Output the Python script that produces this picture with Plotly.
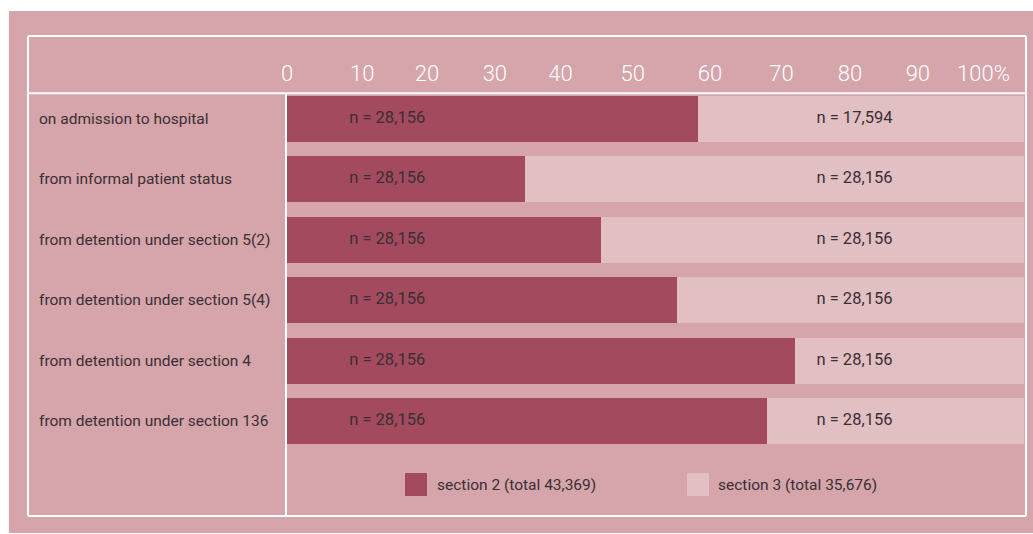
import plotly.graph_objects as go

# Routes into detention and the split between section 2 and section 3
categories = [
    "on admission to hospital",
    "from informal patient status",
    "from detention under section 5(2)",
    "from detention under section 5(4)",
    "from detention under section 4",
    "from detention under section 136",
]
section2_pct = [55.7, 32.3, 42.6, 52.9, 68.9, 65.1]
section3_pct = [round(100 - v, 1) for v in section2_pct]
section2_n = ["28,156", "28,156", "28,156", "28,156", "28,156", "28,156"]
section3_n = ["17,594", "28,156", "28,156", "28,156", "28,156", "28,156"]

tick_labels = ["0", "10", "20", "30", "40", "50", "60", "70", "80", "90", "100%"]
# header labels sit on a slightly tighter grid than the bar track
tick_pos = [0, 10.2, 19.0, 28.2, 37.1, 46.9, 57.4, 67.1, 76.4, 85.6, 94.5]

legend_labels = ["section 2 (total 43,369)", "section 3 (total 35,676)"]

DARK = "#a34a5f"
LIGHT = "#e2bfc3"
PINK = "#d5a5ab"
TEXT = "#3a2f34"
FONT = "Roboto, sans-serif"

W, H = 1033, 534
L, R, T, B = 287, 9, 94, 18
PW, PH = W - L - R, H - T - B


def px(x):
    return (x - L) / PW


def py(y):
    return (H - B - y) / PH


fig = go.Figure()
fig.add_trace(go.Bar(
    y=categories, x=section2_pct, orientation="h", marker=dict(color=DARK, line=dict(width=0)),
    width=0.76, hoverinfo="skip", showlegend=False,
))
fig.add_trace(go.Bar(
    y=categories, x=section3_pct, orientation="h", marker=dict(color=LIGHT, line=dict(width=0)),
    width=0.76, hoverinfo="skip", showlegend=False,
))

# count labels inside each segment
label_font = dict(family=FONT, size=16.5, color=TEXT, weight=400)
fig.add_trace(go.Scatter(
    y=categories, x=[13.6] * len(categories), mode="text",
    text=["n = " + s for s in section2_n], textfont=label_font,
    textposition="middle center", hoverinfo="skip", showlegend=False,
))
fig.add_trace(go.Scatter(
    y=categories, x=[77.0] * len(categories), mode="text",
    text=["n = " + s for s in section3_n], textfont=label_font,
    textposition="middle center", hoverinfo="skip", showlegend=False,
))

shapes = [
    # pink panel
    dict(type="rect", xref="paper", yref="paper", x0=px(9), x1=px(1033), y0=py(533), y1=py(11),
         fillcolor=PINK, line=dict(width=0), layer="below"),
]
white = dict(color="white", width=2)
for x0, y0, x1, y1 in [
    (28, 36, 1026, 36), (28, 516, 1026, 516), (28, 36, 28, 516), (1026, 36, 1026, 516),
    (28, 93.3, 1026, 93.3), (286, 93.3, 286, 516),
]:
    shapes.append(dict(type="line", xref="paper", yref="paper", x0=px(x0), x1=px(x1),
                       y0=py(y0), y1=py(y1), line=white, layer="above"))

# legend swatches
for sx, col in [(405, DARK), (687, LIGHT)]:
    shapes.append(dict(type="rect", xref="paper", yref="paper", x0=px(sx), x1=px(sx + 22),
                       y0=py(496), y1=py(473), fillcolor=col, line=dict(width=0)))

text_font = dict(family=FONT, size=15.5, color=TEXT, weight=400)
annotations = []
for c in categories:
    annotations.append(dict(text=c, xref="paper", yref="y", x=px(37), y=c, xanchor="left",
                            yanchor="middle", showarrow=False, font=text_font))
for tx, lab in [(435, legend_labels[0]), (716, legend_labels[1])]:
    annotations.append(dict(text=lab, xref="paper", yref="paper", x=px(tx), y=py(485),
                            xanchor="left", yanchor="middle", showarrow=False, font=text_font))

fig.update_layout(
    width=W, height=H, margin=dict(l=L, r=R, t=T, b=B),
    paper_bgcolor="white", plot_bgcolor=PINK,
    barmode="stack", bargap=0,
    shapes=shapes, annotations=annotations,
    xaxis=dict(range=[0, 100], side="top", tickvals=tick_pos, ticktext=tick_labels,
               tickfont=dict(family=FONT, size=22, color="white", weight=300), showgrid=False,
               zeroline=False, showline=False, ticks="", ticklabelstandoff=8, fixedrange=True),
    yaxis=dict(range=[6.57, -0.41], showticklabels=False, showgrid=False, zeroline=False,
               showline=False, ticks="", fixedrange=True),
    showlegend=False,
)

fig.write_html("out.html")
